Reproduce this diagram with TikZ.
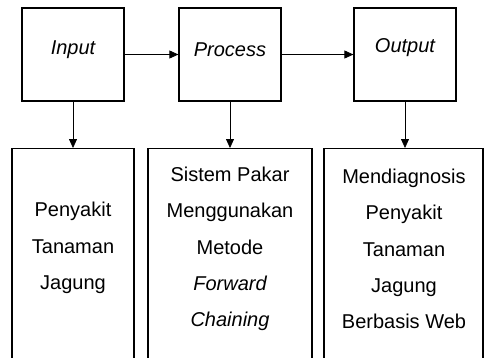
\documentclass[tikz,border=0pt]{standalone}
\usepackage{fontspec}
\setmainfont{Liberation Sans}
\usetikzlibrary{arrows.meta}
\begin{document}
\begin{tikzpicture}[x=1pt,y=-1pt,
  topbox/.style={draw,line width=1.2pt,minimum width=102pt,minimum height=93pt,inner sep=0pt},
  lowbox/.style={draw,line width=1.2pt,anchor=north,minimum height=260pt,inner sep=0pt},
  lbl/.style={font=\fontsize{20}{36.3}\selectfont,align=center,inner sep=0pt},
  arr/.style={line width=0.8pt,-{Triangle[length=9pt,width=8pt]}}]
\useasboundingbox (0,0) rectangle (485,357);
\clip (0,0) rectangle (485,357);
\node[topbox] (in) at (73,54.5) {};
\node[topbox] (pr) at (230,54.5) {};
\node[topbox] (ou) at (405,54.5) {};
\node[lbl] (tin) at (73,50) {\itshape Input};
\node[lbl] (tpr) at (230,50) {\itshape Process};
\node[lbl] (tou) at (405,48) {\itshape Output};
\node[lowbox,minimum width=122pt] (b1) at (73,148) {};
\node[lowbox,minimum width=164pt] (b2) at (230,148) {};
\node[lowbox,minimum width=159pt] (b3) at (403.5,148) {};
\node[lbl] (t1) at (73,248) {Penyakit\\Tanaman\\Jagung};
\node[lbl] (t2) at (230,249) {Sistem Pakar\\Menggunakan\\Metode\\\itshape Forward\\\itshape Chaining};
\node[lbl] (t3) at (404,249) {Mendiagnosis\\Penyakit\\Tanaman\\Jagung\\Berbasis Web};
\draw[arr] (in) -- (pr);
\draw[arr] (pr) -- (ou);
\draw[arr] (in.south) -- (in.south |- b1.north);
\draw[arr] (pr.south) -- (pr.south |- b2.north);
\draw[arr] (ou.south) -- (ou.south |- b3.north);
\end{tikzpicture}
\end{document}
